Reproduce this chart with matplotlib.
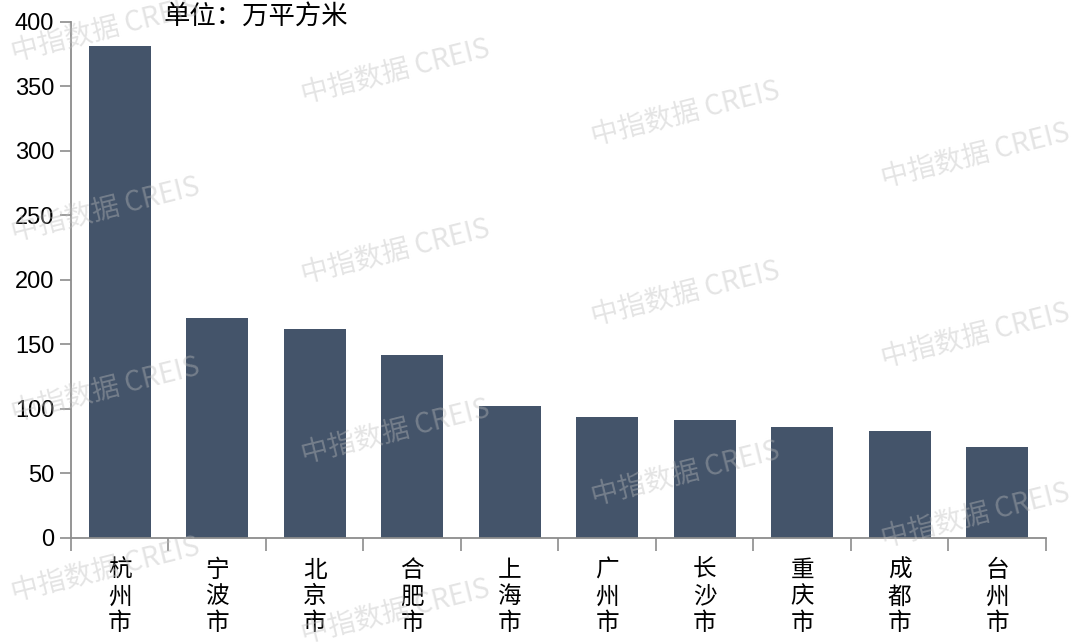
import matplotlib
matplotlib.use("Agg")
import matplotlib.pyplot as plt
import numpy as np

plt.rcParams['font.family'] = ['Noto Sans CJK SC', 'DejaVu Sans']

# data (unit: 10k m²)
cities = ["杭州市", "宁波市", "北京市", "合肥市", "上海市",
          "广州市", "长沙市", "重庆市", "成都市", "台州市"]
area = [381.5, 170.5, 162, 142, 102, 94, 91.5, 86, 83, 70.5]
yticks = [0, 50, 100, 150, 200, 250, 300, 350, 400]
unit_label = "单位：万平方米"
watermark = "中指数据 CREIS"

bar_color = "#44546a"
axis_color = "#8c8c8c"

fig = plt.figure(figsize=(10.8, 6.43), dpi=100)
ax = fig.add_axes([0.0657, 0.1633, 0.9028, 0.8025])

x = np.arange(len(cities))
ax.bar(x, area, width=0.64, color=bar_color, zorder=2)

ax.set_xlim(-0.5, len(cities) - 0.5)
ax.set_ylim(0, 400)
ax.set_yticks(yticks)
ax.set_yticklabels([str(v) for v in yticks], fontsize=17,
                   family=['Liberation Sans', 'DejaVu Sans'])

# category boundaries carry the tick marks, labels sit in between
ax.set_xticks(np.arange(-0.5, len(cities)), minor=False)
ax.set_xticklabels([])
ax.set_xticks(x, minor=True)
ax.set_xticklabels(["\n".join(c) for c in cities], minor=True,
                   fontsize=17, linespacing=1.2)
ax.tick_params(axis='x', which='major', length=9, width=1.2,
               color=axis_color, direction='out')
ax.tick_params(axis='x', which='minor', length=0, pad=15)
ax.tick_params(axis='y', length=8, width=1.2, color=axis_color,
               direction='out', pad=4)

for side in ['top', 'right']:
    ax.spines[side].set_visible(False)
for side in ['left', 'bottom']:
    ax.spines[side].set_color(axis_color)
    ax.spines[side].set_linewidth(1.3)

fig.text(164 / 1080, 1 - 3 / 643, unit_label, fontsize=19,
         ha='left', va='top')

# faint diagonal watermark pattern (only the copies that fit in the frame)
for row in range(4):
    for col in range(4):
        px = 105 + col * 290
        py = 30 + row * 180 + col * 42
        if py > 620:
            continue
        fig.text(px / 1080, 1 - py / 643, watermark, fontsize=20,
                 color="#bdbdbd", alpha=0.4, rotation=14,
                 ha='center', va='center', zorder=5,
                 family=['Noto Sans CJK SC', 'DejaVu Sans'], weight='medium')

fig.savefig("out.png", dpi=100)
